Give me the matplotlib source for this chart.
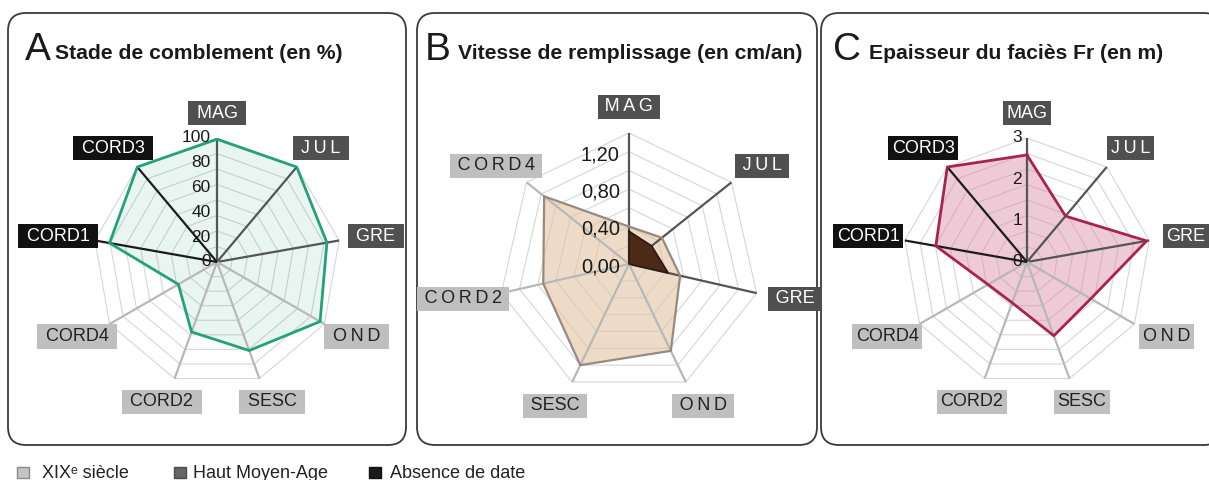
import numpy as np
import matplotlib
matplotlib.use("Agg")
import matplotlib.pyplot as plt
from matplotlib.patches import FancyBboxPatch, Rectangle

plt.rcParams["font.family"] = ["Liberation Sans", "DejaVu Sans"]

W, H = 1209, 480

# ---------------------------------------------------------------- data
labels_a = ["MAG", "JUL", "GRE", "OND", "SESC", "CORD2", "CORD4", "CORD1", "CORD3"]
periods_a = ["hma", "hma", "hma", "xix", "xix", "xix", "xix", "nd", "nd"]
comblement = [99, 100, 90, 96, 76, 60, 36, 88, 100]
ticks_a = [0, 20, 40, 60, 80, 100]

labels_b = ["MAG", "JUL", "GRE", "OND", "SESC", "CORD2", "CORD4"]
periods_b = ["hma", "hma", "hma", "xix", "xix", "xix", "xix"]
vitesse_xix = [0.40, 0.45, 0.56, 1.03, 1.20, 0.94, 1.16]
vitesse_hma = [0.35, 0.31, 0.43, 0.0, 0.0, 0.0, 0.0]
ticks_b = [0.0, 0.4, 0.8, 1.2]
tick_labels_b = ["0,00", "0,40", "0,80", "1,20"]

labels_c = ["MAG", "JUL", "GRE", "OND", "SESC", "CORD2", "CORD4", "CORD1", "CORD3"]
periods_c = periods_a
epaisseur = [2.59, 1.45, 2.94, 1.78, 1.90, 1.05, 1.09, 2.24, 3.0]
ticks_c = [0, 1, 2, 3]

legend_labels = ["XIX\u1d49 siècle", "Haut Moyen-Age", "Absence de date"]

# labels printed with letter spacing in the original figure
spaced_a = {"JUL", "OND"}
spaced_b = {"MAG", "JUL", "OND", "CORD2", "CORD4"}
spaced_c = {"JUL", "OND"}

# ---------------------------------------------------------------- styles
SPOKE = {"hma": "#555555", "nd": "#1c1c1c", "xix": "#b8b8b8"}
BOX_BG = {"hma": "#505050", "nd": "#111111", "xix": "#bfbfbf"}
BOX_FG = {"hma": "white", "nd": "white", "xix": "#222222"}
RING = "#d6d6d6"
TXT = "#1a1a1a"
THIN = "\u2009"


def _angles(n):
    return np.pi / 2 - 2 * np.pi * np.arange(n) / n


def _xy(vals):
    th = _angles(len(vals))
    v = np.asarray(vals, dtype=float)
    return v * np.cos(th), v * np.sin(th)


def _closed(x, y):
    return np.append(x, x[0]), np.append(y, y[0])


def radar(fig, cx, cy, R, rmax, labels, periods, spaced, ring_step, side=" "):
    ax = fig.add_axes([(cx - R) / W, (H - cy - R) / H, 2 * R / W, 2 * R / H])
    ax.set_xlim(-rmax, rmax)
    ax.set_ylim(-rmax, rmax)
    ax.axis("off")
    n = len(labels)
    th = _angles(n)
    for r in np.arange(ring_step, rmax + 1e-9, ring_step):
        x, y = _closed(r * np.cos(th), r * np.sin(th))
        ax.plot(x, y, color=RING, lw=0.8, zorder=1)
    for t, lab, p in zip(th, labels, periods):
        ax.plot([0, rmax * np.cos(t)], [0, rmax * np.sin(t)],
                color=SPOKE[p], lw=1.6, zorder=3, solid_capstyle="butt")
        txt = THIN.join(lab) if lab in spaced else lab
        ax.text(1.3 * rmax * np.cos(t), 1.2 * rmax * np.sin(t), f"{side}{txt}{side}",
                ha="center", va="center", fontsize=13, color=BOX_FG[p],
                bbox=dict(boxstyle="square,pad=0.2", fc=BOX_BG[p], ec="none"),
                clip_on=False, zorder=6)
    return ax


fig = plt.figure(figsize=(W / 100, H / 100), dpi=100)
bg = fig.add_axes([0, 0, 1, 1])
bg.set_xlim(0, W)
bg.set_ylim(H, 0)
bg.axis("off")

# frames
for x0, x1 in [(8, 406), (417, 817), (821, 1222)]:
    bg.add_patch(FancyBboxPatch((x0, 13), x1 - x0, 432,
                                boxstyle="round,pad=0,rounding_size=18",
                                ec="#3a3a3a", fc="white", lw=1.3))

# titles
titles = [(25, 55, "A", "Stade de comblement (en %)"),
          (425, 458, "B", "Vitesse de remplissage (en cm/an)"),
          (833, 869, "C", "Epaisseur du faciès Fr (en m)")]
for xl, xt, letter, title in titles:
    bg.text(xl, 60, letter, fontsize=28, color=TXT, va="baseline")
    bg.text(xt, 59, title, fontsize=15.2, fontweight="bold", color=TXT, va="baseline")

# ---------------------------------------------------------------- panel A
axa = radar(fig, 217, 262, 124, 100, labels_a, periods_a, spaced_a, 12.5)
x, y = _closed(*_xy(comblement))
axa.fill(x, y, color="#2aa07a", alpha=0.10, lw=0, zorder=2)
axa.plot(x, y, color="#22a27a", lw=2.0, zorder=4)
for v in ticks_a:
    axa.text(-0.05 * 100, v, str(v), ha="right", va="center",
             fontsize=12.5, color=TXT, zorder=5)

# ---------------------------------------------------------------- panel B
axb = radar(fig, 629, 264, 131, 1.4, labels_b, periods_b, spaced_b, 0.2, side=THIN)
x, y = _closed(*_xy(vitesse_xix))
axb.fill(x, y, color="#e2c4a4", alpha=0.6, lw=0, zorder=2)
axb.plot(x, y, color="#978a80", lw=1.6, zorder=4)
x, y = _closed(*_xy(vitesse_hma))
axb.fill(x, y, color="#4d2a18", lw=0, zorder=4.5)
axb.plot(x, y, color="#2a1a10", lw=1.2, zorder=4.6)
for v, s in zip(ticks_b, tick_labels_b):
    axb.text(-0.07 * 1.4, v - 0.03, s, ha="right", va="center",
             fontsize=14.5, color=TXT, zorder=5)

# ---------------------------------------------------------------- panel C
axc = radar(fig, 1027, 262, 124, 3, labels_c, periods_c, spaced_c, 0.375, side="")
x, y = _closed(*_xy(epaisseur))
axc.fill(x, y, color="#d98aa6", alpha=0.45, lw=0, zorder=2)
axc.plot(x, y, color="#a8234f", lw=2.0, zorder=4)
for v in ticks_c:
    axc.text(-0.04 * 3, v, str(v), ha="right", va="center",
             fontsize=12.5, color=TXT, zorder=5)

# ---------------------------------------------------------------- legend
leg_fc = ["#c4c4c4", "#666666", "#1a1a1a"]
leg_ec = ["#8a8a8a", "#4a4a4a", "#111111"]
for xs, xt, lab, fc, ec in zip([17, 174, 369], [42, 193, 390], legend_labels, leg_fc, leg_ec):
    bg.add_patch(Rectangle((xs, 467), 12, 11, fc=fc, ec=ec, lw=1))
    bg.text(xt, 473, lab, fontsize=13, color="#222222", va="center")

fig.savefig("out.png", dpi=100, facecolor="white")
